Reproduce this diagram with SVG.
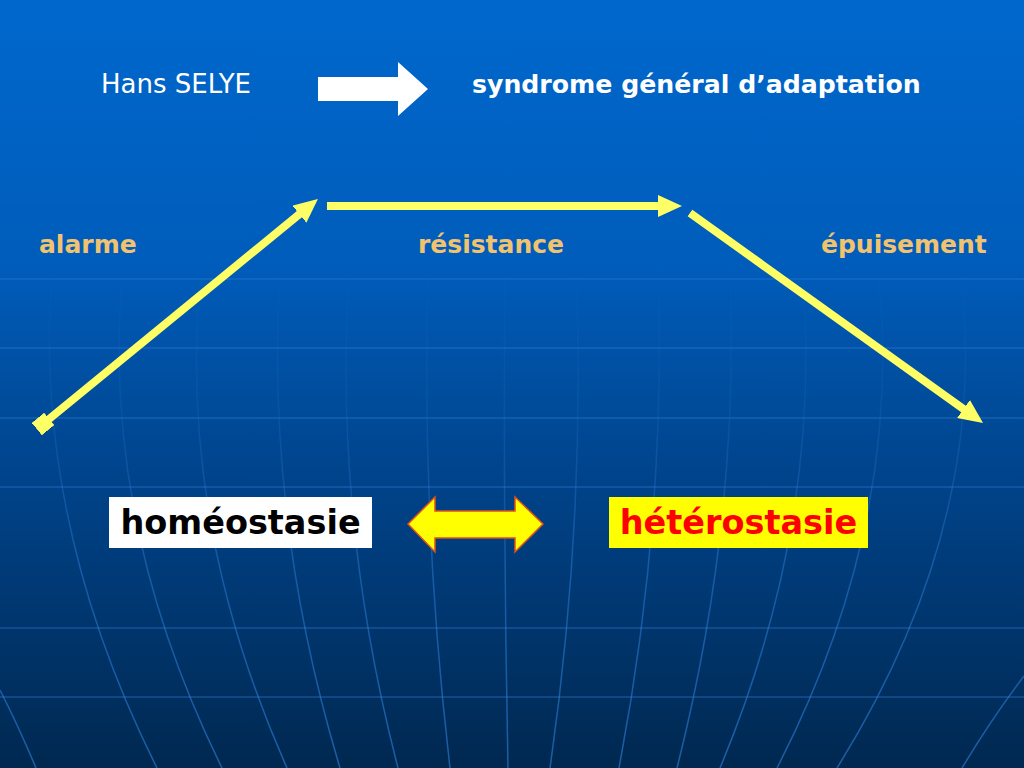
<svg xmlns="http://www.w3.org/2000/svg" width="1024" height="768" viewBox="0 0 1024 768">
  <defs>
    <linearGradient id="bg" x1="0" y1="0" x2="0" y2="1">
      <stop offset="0" stop-color="#0068cd"/>
      <stop offset="0.35" stop-color="#005cba"/>
      <stop offset="0.6" stop-color="#00458e"/>
      <stop offset="1" stop-color="#002850"/>
    </linearGradient>
    <linearGradient id="gl" gradientUnits="userSpaceOnUse" x1="0" y1="260" x2="0" y2="768">
      <stop offset="0" stop-color="#2f82de" stop-opacity="0"/>
      <stop offset="0.3" stop-color="#2f82de" stop-opacity="0.15"/>
      <stop offset="0.6" stop-color="#2f82de" stop-opacity="0.45"/>
      <stop offset="1" stop-color="#2f82de" stop-opacity="0.6"/>
    </linearGradient>
    <marker id="ah" viewBox="0 0 24 22" refX="6" refY="11" markerWidth="24" markerHeight="22" markerUnits="userSpaceOnUse" orient="auto">
      <path d="M0,0 L24,11 L0,22 Z" fill="#ffff66"/>
    </marker>
    <marker id="sq" viewBox="0 0 16 16" refX="8" refY="8" markerWidth="16" markerHeight="16" markerUnits="userSpaceOnUse" orient="auto">
      <rect x="0" y="0" width="16" height="16" fill="#ffff66"/>
    </marker>
  </defs>
  <style>
    .lbl { font-family: "DejaVu Sans", Verdana, sans-serif; font-weight: bold; font-size: 25px; fill: #f2c36e; }
    .grid { fill: none; stroke: url(#gl); stroke-width: 1.5; }
    .hgrid { stroke: #2a7ad6; stroke-width: 1.5; stroke-opacity: 0.45; }
    .flow { stroke: #ffff66; stroke-width: 8; fill: none; }
    .big { font-family: "DejaVu Sans", Verdana, sans-serif; font-weight: bold; font-size: 33.5px; text-anchor: middle; }
  </style>

  <rect width="1024" height="768" fill="url(#bg)"/>

  <g id="background-grid">
    <line class="hgrid" x1="0" y1="279" x2="1024" y2="279" stroke-opacity="0.25"/>
    <line class="hgrid" x1="0" y1="348" x2="1024" y2="348" stroke-opacity="0.3"/>
    <line class="hgrid" x1="0" y1="418" x2="1024" y2="418" stroke-opacity="0.4"/>
    <line class="hgrid" x1="0" y1="487" x2="1024" y2="487" stroke-opacity="0.55"/>
    <line class="hgrid" x1="0" y1="628" x2="1024" y2="628" stroke-opacity="0.35"/>
    <line class="hgrid" x1="0" y1="697" x2="1024" y2="697" stroke-opacity="0.35"/>
    <path class="grid" d="M52,270 Q32.3,519 157,768"/>
    <path class="grid" d="M123,270 Q99.3,519 222,768"/>
    <path class="grid" d="M201,270 Q176.1,519 287,768"/>
    <path class="grid" d="M280,270 Q264.9,519 340,768"/>
    <path class="grid" d="M349,270 Q333.4,519 398,768"/>
    <path class="grid" d="M428,270 Q420.9,519 450,768"/>
    <path class="grid" d="M505,270 Q502.9,519 508,768"/>
    <path class="grid" d="M576,270 Q585.9,519 550,768"/>
    <path class="grid" d="M658,270 Q666.6,519 619,768"/>
    <path class="grid" d="M730,270 Q740.2,519 677,768"/>
    <path class="grid" d="M802,270 Q824.1,519 720,768"/>
    <path class="grid" d="M878,270 Q905.1,519 777,768"/>
    <path class="grid" d="M960,270 Q992.2,519 837,768"/>
    <path class="grid" d="M0,690 Q18,725 36,768"/>
    <path class="grid" d="M1024,676 Q992,718 962,768"/>
  </g>

  <g id="title-source">
    <text x="101" y="93" font-family="DejaVu Sans, Verdana, sans-serif" font-size="26" fill="#ffffff">Hans SELYE</text>
  </g>
  <g id="title-arrow">
    <polygon points="318,77 398,77 398,62 428,89 398,116 398,101 318,101" fill="#ffffff"/>
  </g>
  <g id="title-target">
    <text x="472" y="93" font-family="DejaVu Sans, Verdana, sans-serif" font-size="25.2" font-weight="bold" fill="#ffffff">syndrome général d’adaptation</text>
  </g>

  <g id="stage-alarme"><text class="lbl" x="39" y="253">alarme</text></g>
  <g id="stage-resistance"><text class="lbl" x="418" y="253">résistance</text></g>
  <g id="stage-epuisement"><text class="lbl" x="821" y="253">épuisement</text></g>

  <g id="connectors">
    <line class="flow" x1="43" y1="424" x2="304" y2="210.4" marker-start="url(#sq)" marker-end="url(#ah)"/>
    <line class="flow" x1="327" y1="206" x2="664" y2="206" marker-end="url(#ah)"/>
    <line class="flow" x1="690" y1="213" x2="968.4" y2="412.5" marker-end="url(#ah)"/>
  </g>

  <g id="homeostasie">
    <rect x="109" y="497" width="263" height="51" fill="#ffffff"/>
    <text class="big" x="240.5" y="534" fill="#000000">homéostasie</text>
  </g>

  <g id="double-arrow">
    <polygon points="408,524 435,497 435,511 515,511 515,497 543,524 515,552 515,538 435,538 435,552" fill="#ffff00" stroke="#e0501a" stroke-width="1.5" stroke-linejoin="miter"/>
  </g>

  <g id="heterostasie">
    <rect x="609" y="497" width="259" height="51" fill="#ffff00"/>
    <text class="big" x="738.5" y="534" fill="#ff0000">hétérostasie</text>
  </g>
</svg>
